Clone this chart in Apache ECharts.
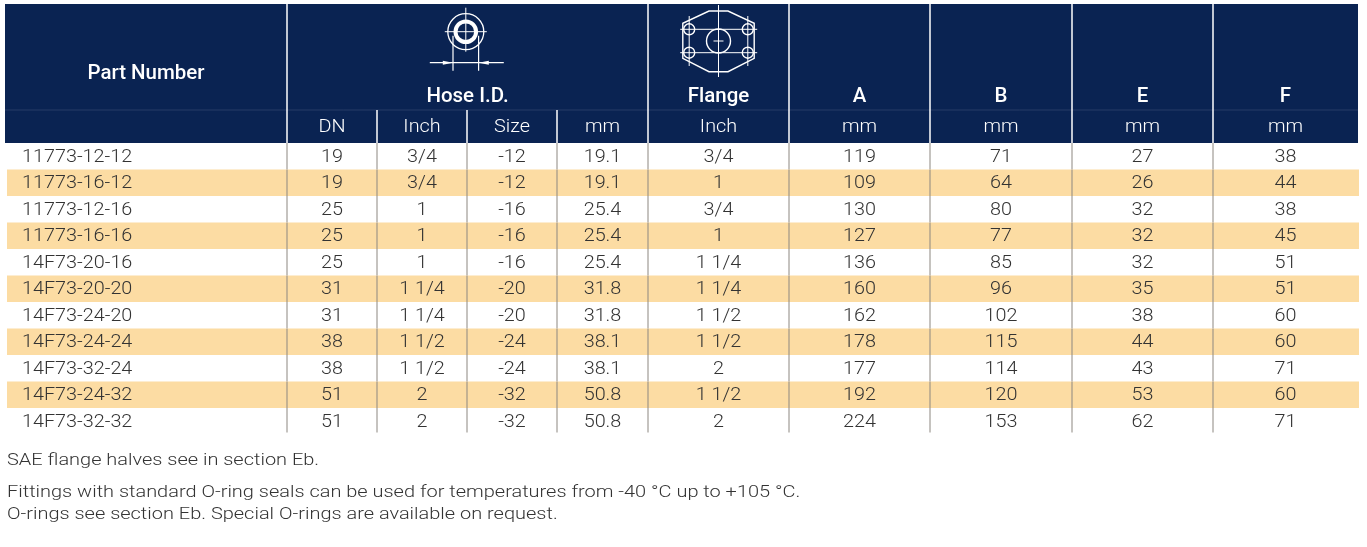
<!DOCTYPE html>
<html>
<head>
<meta charset="utf-8">
<script src="https://cdn.jsdelivr.net/npm/echarts@6/dist/echarts.min.js"></script>
<style>
  html, body { margin: 0; padding: 0; background: #fff; }
  #chart { width: 1367px; height: 547px; }
</style>
</head>
<body>
<div id="chart"></div>
<script>
// -- Table content --
const partNumbers = ['11773-12-12', '11773-16-12', '11773-12-16', '11773-16-16', '14F73-20-16',
  '14F73-20-20', '14F73-24-20', '14F73-24-24', '14F73-32-24', '14F73-24-32', '14F73-32-32'];
const hoseDN = [19, 19, 25, 25, 25, 31, 31, 38, 38, 51, 51];
const hoseInch = ['3/4', '3/4', '1', '1', '1', '1 1/4', '1 1/4', '1 1/2', '1 1/2', '2', '2'];
const hoseSize = ['-12', '-12', '-16', '-16', '-16', '-20', '-20', '-24', '-24', '-32', '-32'];
const hoseMm = ['19.1', '19.1', '25.4', '25.4', '25.4', '31.8', '31.8', '38.1', '38.1', '50.8', '50.8'];
const flangeInch = ['3/4', '1', '3/4', '1', '1 1/4', '1 1/4', '1 1/2', '1 1/2', '2', '1 1/2', '2'];
const dimA = [119, 109, 130, 127, 136, 160, 162, 178, 177, 192, 224];
const dimB = [71, 64, 80, 77, 85, 96, 102, 115, 114, 120, 153];
const dimE = [27, 26, 32, 32, 32, 35, 38, 44, 43, 53, 62];
const dimF = [38, 44, 38, 45, 51, 51, 60, 60, 71, 60, 71];

// header text: group titles (with how many sub-columns each covers) and the unit row
const groupLabels = ['Part Number', 'Hose I.D.', 'Flange', 'A', 'B', 'E', 'F'];
const groupSpans = [1, 4, 1, 1, 1, 1, 1];
const unitLabels = ['', 'DN', 'Inch', 'Size', 'mm', 'Inch', 'mm', 'mm', 'mm', 'mm'];

const footNotes = [
  'SAE flange halves see in section Eb.',
  'Fittings with standard O-ring seals can be used for temperatures from -40 °C up to +105 °C.',
  'O-rings see section Eb. Special O-rings are available on request.'
];

const columns = [partNumbers, hoseDN, hoseInch, hoseSize, hoseMm, flangeInch, dimA, dimB, dimE, dimF];

// -- Layout / styling --
const COL_W = [282, 90, 90, 90, 91, 141, 141, 142, 141, 145];
const EDGES = COL_W.reduce((a, w) => { a.push(a[a.length - 1] + w); return a; }, [0]);
const TABLE_W = EDGES[EDGES.length - 1];
const HEAD_H = 139;
const ROW_H = 26.5;
const STRETCH = 1.1;   // Helvetica Neue Light runs wider than Roboto Light

const NAVY = '#0a2352';
const ROW_FILL = '#fcdca3';
const TEXT = '#333333';
const RULE = '#8c8780';
const FONT = 'Roboto';

// group start columns
const groupStart = groupSpans.reduce((a, s) => { a.push(a[a.length - 1] + s); return a; }, [0]);

function txt(x, y, text, opts, stretch) {
  return {
    type: 'text', x, y, scaleX: stretch || STRETCH,
    style: Object.assign({
      text, fill: TEXT, fontFamily: FONT, fontSize: 18, fontWeight: 300,
      align: 'center', verticalAlign: 'middle'
    }, opts || {})
  };
}

function line(x1, y1, x2, y2, stroke, w) {
  return { type: 'line', shape: { x1, y1, x2, y2 }, style: { stroke, lineWidth: w || 1 } };
}

// Hose I.D. symbol
function hoseIcon(cx, cy) {
  const s = { stroke: '#fff', fill: null, lineWidth: 1.3 };
  return {
    type: 'group', x: cx, y: cy,
    children: [
      { type: 'circle', shape: { cx: 0, cy: 0, r: 18 }, style: s },
      { type: 'circle', shape: { cx: 0, cy: 0, r: 10.3 }, style: { stroke: '#fff', fill: null, lineWidth: 4 } },
      line(-21, 0, 21, 0, '#fff', 1), line(0, -24, 0, 20, '#fff', 1),
      line(-12.8, 4, -12.8, 39, '#fff', 1.2), line(12.8, 4, 12.8, 39, '#fff', 1.2),
      line(-36, 31, 38, 31, '#fff', 1.2),
      { type: 'polygon', shape: { points: [[-12.8, 31], [-23, 29], [-23, 33]] }, style: { fill: '#fff' } },
      { type: 'polygon', shape: { points: [[12.8, 31], [23, 29], [23, 33]] }, style: { fill: '#fff' } }
    ]
  };
}

// Flange symbol
function flangeIcon(cx, cy) {
  const s = { stroke: '#fff', fill: null, lineWidth: 1.4 };
  const holes = [[-29.3, -11.7], [29.3, -11.7], [-29.3, 11.7], [29.3, 11.7]];
  const kids = [
    { type: 'polygon', shape: { points: [[-9.5, -30], [9.5, -30], [35.7, -17.7], [35.7, 17.3], [9.5, 30.7], [-9.5, 30.7], [-35.7, 17.3], [-35.7, -17.7]] }, style: s },
    line(-38.3, -11.7, 38.7, -11.7, '#fff', 1), line(-38.3, 11.7, 38.7, 11.7, '#fff', 1),
    line(-29.3, -25, -29.3, 25, '#fff', 1), line(29.3, -25, 29.3, 25, '#fff', 1),
    line(0, -36, 0, 36, '#fff', 1), line(-5, 0, 5, 0, '#fff', 1),
    { type: 'circle', shape: { cx: 0, cy: 0, r: 12 }, style: s }
  ];
  holes.forEach(h => kids.push({ type: 'circle', shape: { cx: h[0], cy: h[1], r: 5.5 }, style: s }));
  return { type: 'group', x: cx, y: cy, children: kids };
}

function renderHeader(params, api) {
  const p = (x, y) => api.coord([x, y]);
  const tl = p(0, 0), br = p(TABLE_W, HEAD_H);
  const kids = [
    { type: 'rect', shape: { x: tl[0], y: tl[1], width: br[0] - tl[0], height: br[1] - tl[1] }, style: { fill: NAVY } },
    line(tl[0], p(0, 106)[1], br[0], p(0, 106)[1], 'rgba(255,255,255,0.12)', 1)
  ];
  // separators
  for (let k = 1; k < EDGES.length - 1; k++) {
    const x = p(EDGES[k], 0)[0];
    const full = groupStart.indexOf(k) >= 0;
    kids.push(line(x, p(0, full ? 0 : 106)[1], x, br[1], '#ffffff', 1.5));
  }
  // group titles
  groupLabels.forEach((lab, g) => {
    const a = EDGES[groupStart[g]], b = EDGES[groupStart[g] + groupSpans[g]];
    const c = p((a + b) / 2, g === 0 ? 70 : 93);
    kids.push(txt(c[0], c[1], lab, { fill: '#fff', fontWeight: 500, fontSize: 19.5 }, 1.05));
    if (g === 1) kids.push(hoseIcon(c[0] - 1.7, p(0, 27.7)[1]));
    if (g === 2) kids.push(flangeIcon(c[0], p(0, 37)[1]));
  });
  // unit row
  unitLabels.forEach((lab, k) => {
    if (!lab) return;
    const c = p((EDGES[k] + EDGES[k + 1]) / 2, 123);
    kids.push(txt(c[0], c[1], lab, { fill: '#fff' }));
  });
  return { type: 'group', children: kids };
}

function renderRow(params, api) {
  const i = api.value(1);
  const mid = api.coord([0, i]);
  const h = api.size([0, 1])[1];
  const top = mid[1] - h / 2;
  const x = v => api.coord([v, i])[0];
  const kids = [];
  if (i % 2 === 1) {
    kids.push({ type: 'rect', shape: { x: x(2), y: top, width: x(TABLE_W + 1) - x(2), height: h }, style: { fill: ROW_FILL } });
  }
  columns.forEach((col, k) => {
    const v = String(col[i]);
    if (k === 0) kids.push(txt(x(EDGES[0]) + 17, mid[1] + 1, v, { align: 'left' }));
    else kids.push(txt((x(EDGES[k]) + x(EDGES[k + 1])) / 2, mid[1] + 1, v));
  });
  const bottom = i === partNumbers.length - 1 ? top + h - 2 : top + h;
  for (let k = 1; k < EDGES.length - 1; k++) {
    kids.push(line(x(EDGES[k]), top, x(EDGES[k]), bottom, RULE, 1));
  }
  return { type: 'group', children: kids };
}

const chart = echarts.init(document.getElementById('chart'), null, { renderer: 'canvas' });

chart.setOption({
  animation: false,
  backgroundColor: '#fff',
  grid: [
    { left: 5, top: 4, width: TABLE_W, height: HEAD_H },
    { left: 5, top: 4 + HEAD_H, width: TABLE_W, height: ROW_H * partNumbers.length }
  ],
  xAxis: [
    { type: 'value', gridIndex: 0, min: 0, max: TABLE_W, show: false },
    { type: 'value', gridIndex: 1, min: 0, max: TABLE_W, show: false }
  ],
  yAxis: [
    { type: 'value', gridIndex: 0, min: 0, max: HEAD_H, inverse: true, show: false },
    { type: 'category', gridIndex: 1, data: partNumbers, inverse: true, show: false }
  ],
  series: [
    {
      type: 'custom', xAxisIndex: 1, yAxisIndex: 1, silent: true,
      data: partNumbers.map((_, i) => [0, i]),
      encode: { x: 0, y: 1 },
      renderItem: renderRow
    },
    {
      type: 'custom', xAxisIndex: 0, yAxisIndex: 0, silent: true,
      data: [[0, 0]],
      renderItem: renderHeader
    }
  ],
  graphic: footNotes.map((t, n) => ({
    type: 'text', left: 7, top: [452, 484, 506][n], scaleX: 1.21,
    style: { text: t, fill: TEXT, fontFamily: FONT, fontSize: 16.5, fontWeight: 300 }
  }))
});

window.addEventListener('resize', () => chart.resize());
</script>
</body>
</html>
